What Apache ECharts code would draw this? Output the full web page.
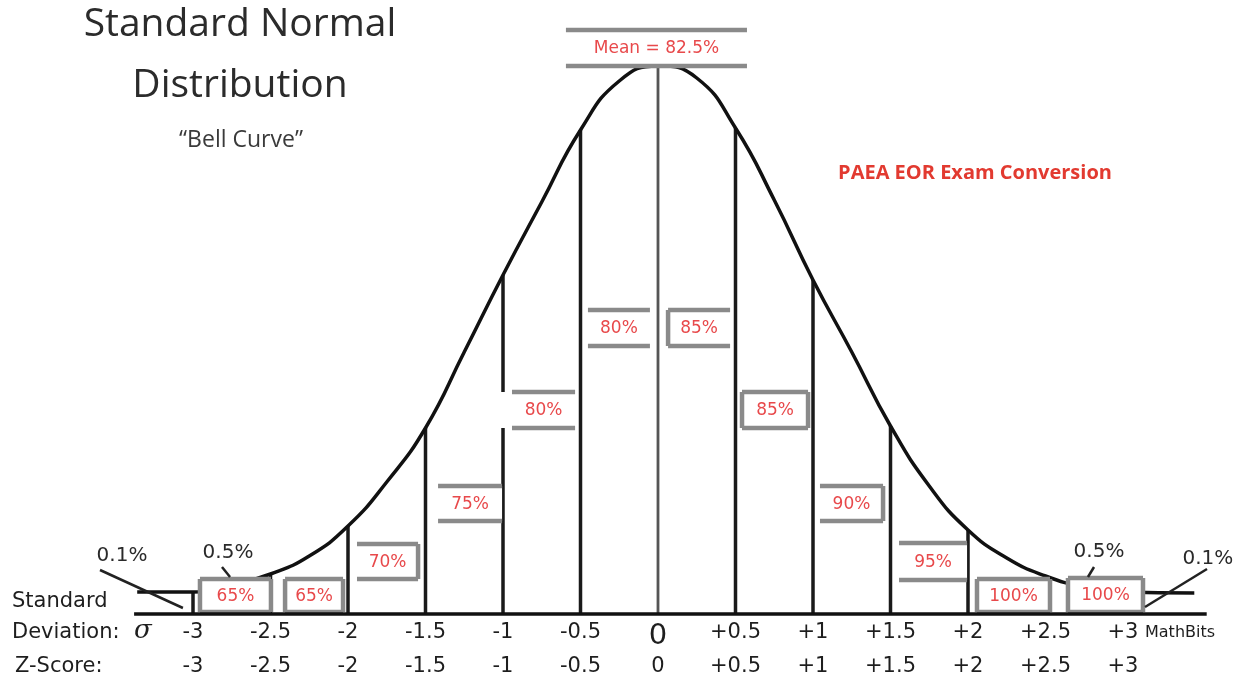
<!DOCTYPE html>
<html>
<head>
<meta charset="utf-8">
<script src="https://cdn.jsdelivr.net/npm/echarts@6/dist/echarts.min.js"></script>
<style>
html,body{margin:0;padding:0;background:#fff;}
#chart{width:1238px;height:687px;}
</style>
</head>
<body>
<div id="chart"></div>
<script>
// ---- data ----
// bell curve: z position and height above the baseline (chart units)
const curveZ = [-3.36, -3, -2.75, -2.5, -2.25, -2, -1.75, -1.5, -1.25, -1, -0.75, -0.5, -0.25, 0, 0.25, 0.5, 0.75, 1, 1.25, 1.5, 1.75, 2, 2.25, 2.5, 2.75, 3, 3.46];
const curveH = [22, 22, 29, 40, 58, 88, 132, 186, 262, 339, 412, 484, 533, 548, 536, 486, 414, 334, 262, 188, 128, 84, 56, 38, 27, 22, 21];
// vertical dividers at each half standard deviation
const dividerZ = [-3, -2.5, -2, -1.5, -1, -0.5, 0, 0.5, 1, 1.5, 2, 2.5];
// tick labels
const sigmaLabels = ['-3', '-2.5', '-2', '-1.5', '-1', '-0.5', '0', '+0.5', '+1', '+1.5', '+2', '+2.5', '+3'];
const zScoreLabels = ['-3', '-2.5', '-2', '-1.5', '-1', '-0.5', '0', '+0.5', '+1', '+1.5', '+2', '+2.5', '+3'];
// exam conversion labels
const conversionLabels = ['65%', '65%', '70%', '75%', '80%', '80%', 'Mean = 82.5%', '85%', '85%', '90%', '95%', '100%', '100%'];
// tail percentages
const tailLabels = ['0.1%', '0.5%', '0.5%', '0.1%'];

// ---- annotation layout (z0, h0, z1, h1, sides, fill-left) ----
const boxLayout = [
  [-2.955, 2, -2.497, 35, 'lr'],
  [-2.406, 2, -2.032, 35, 'lr'],
  [-1.942, 35, -1.548, 70, 'r'],
  [-1.419, 93, -1.006, 128, ''],
  [-0.942, 186, -0.535, 222, '', -1.04],
  [-0.452, 268, -0.052, 304, ''],
  [-0.594, 548, 0.574, 584, ''],
  [0.065, 268, 0.465, 304, 'l'],
  [0.542, 186, 0.968, 222, 'lr'],
  [1.045, 93, 1.452, 128, 'r'],
  [1.555, 34, 1.994, 71, ''],
  [2.058, 2, 2.529, 35, 'lr'],
  [2.645, 2, 3.129, 36, 'lr']
];
const calloutLayout = [
  // text z, text h, line z0, h0, z1, h1
  [-3.458, 58, -3.6, 44, -3.065, 6],
  [-2.774, 61, -2.813, 47, -2.761, 37],
  [2.845, 62, 2.774, 37, 2.813, 47],
  [3.548, 55, 3.142, 7, 3.542, 45]
];

const chart = echarts.init(document.getElementById('chart'));
const AXIS_FONT = 'DejaVu Sans';
const RED = '#e8494b';
const GRAY = '#8a8a8a';

function labelFor(arr, v) {
  const idx = Math.round((v + 3) * 2);
  if (Math.abs(v) > 3.01 || idx < 0 || idx >= arr.length) return '';
  return arr[idx];
}

const heightAt = z => curveH[curveZ.indexOf(z)];

const option = {
  backgroundColor: '#ffffff',
  animation: false,
  grid: { left: 115.5, right: 22, top: 14, bottom: 73, outerBoundsMode: 'none' },
  xAxis: [
    {
      type: 'value', min: -3.5, max: 3.6, interval: 0.5,
      axisLine: { show: false }, axisTick: { show: false }, splitLine: { show: false },
      axisLabel: {
        margin: 8, fontFamily: AXIS_FONT, fontSize: 21, color: '#1e1e1e',
        showMinLabel: true, showMaxLabel: false,
        formatter: v => { const t = labelFor(sigmaLabels, v); return t === '0' ? '{big|0}' : t; },
        rich: { big: { fontSize: 29, fontFamily: AXIS_FONT, color: '#1e1e1e' } }
      }
    },
    {
      type: 'value', min: -3.5, max: 3.6, interval: 0.5, position: 'bottom', offset: 0,
      axisLine: { show: false }, axisTick: { show: false }, splitLine: { show: false },
      axisLabel: {
        margin: 42, fontFamily: AXIS_FONT, fontSize: 21, color: '#1e1e1e',
        showMaxLabel: false,
        formatter: v => labelFor(zScoreLabels, v)
      }
    }
  ],
  yAxis: { type: 'value', min: 0, max: 600, show: false },
  series: [
    {
      type: 'line', name: 'curve', smooth: 0.5, symbol: 'none', z: 3,
      clip: false,
      lineStyle: { color: '#111', width: 3.5 },
      data: curveZ.map((z, i) => [z, curveH[i]])
    },
    {
      type: 'custom', name: 'dividers', z: 2, clip: false,
      data: dividerZ.map(z => [z, heightAt(z)]),
      encode: { x: 0, y: 1 },
      renderItem: (params, api) => {
        const z = api.value(0);
        const top = api.coord([z, api.value(1)]);
        const bot = api.coord([z, 0]);
        const isMean = Math.abs(z) < 1e-9;
        return {
          type: 'line',
          shape: { x1: top[0], y1: top[1], x2: bot[0], y2: bot[1] },
          style: { stroke: isMean ? '#555' : '#1a1a1a', lineWidth: isMean ? 2.8 : 3.5 }
        };
      }
    },
    {
      type: 'custom', name: 'boxes', z: 5, clip: false,
      data: boxLayout.map(b => [b[0], b[1], b[2], b[3]]),
      encode: { x: [0, 2], y: [1, 3] },
      renderItem: (params, api) => {
        const i = params.dataIndex;
        const b = boxLayout[i];
        const p0 = api.coord([api.value(0), api.value(1)]);
        const p1 = api.coord([api.value(2), api.value(3)]);
        const fx0 = b[5] !== undefined ? api.coord([b[5], 0])[0] : p0[0];
        const sides = b[4] || '';
        const lw = 4.5;
        const children = [
          { type: 'rect', shape: { x: fx0, y: p1[1], width: p1[0] - fx0, height: p0[1] - p1[1] }, style: { fill: '#fff' } },
          { type: 'line', shape: { x1: p0[0], y1: p1[1], x2: p1[0], y2: p1[1] }, style: { stroke: GRAY, lineWidth: lw } },
          { type: 'line', shape: { x1: p0[0], y1: p0[1], x2: p1[0], y2: p0[1] }, style: { stroke: GRAY, lineWidth: lw } }
        ];
        if (sides.indexOf('l') >= 0) children.push({ type: 'line', shape: { x1: p0[0], y1: p0[1], x2: p0[0], y2: p1[1] }, style: { stroke: GRAY, lineWidth: lw } });
        if (sides.indexOf('r') >= 0) children.push({ type: 'line', shape: { x1: p1[0], y1: p0[1], x2: p1[0], y2: p1[1] }, style: { stroke: GRAY, lineWidth: lw } });
        children.push({
          type: 'text', x: (p0[0] + p1[0]) / 2, y: (p0[1] + p1[1]) / 2 + 1,
          style: { text: conversionLabels[i], fill: RED, font: '17px "DejaVu Sans"', align: 'center', verticalAlign: 'middle', textAlign: 'center', textVerticalAlign: 'middle' }
        });
        return { type: 'group', children };
      }
    },
    {
      type: 'line', name: 'baseline', symbol: 'none', z: 6, clip: false,
      lineStyle: { color: '#111', width: 3.5 },
      data: [[-3.38, 0], [3.54, 0]]
    },
    {
      type: 'custom', name: 'callouts', z: 7, clip: false,
      data: calloutLayout.map(c => [c[0], c[1]]),
      encode: { x: 0, y: 1 },
      renderItem: (params, api) => {
        const c = calloutLayout[params.dataIndex];
        const t = api.coord([c[0], c[1]]);
        const a = api.coord([c[2], c[3]]);
        const b = api.coord([c[4], c[5]]);
        return {
          type: 'group',
          children: [
            { type: 'line', shape: { x1: a[0], y1: a[1], x2: b[0], y2: b[1] }, style: { stroke: '#222', lineWidth: 2.5 } },
            { type: 'text', x: t[0], y: t[1], style: { text: tailLabels[params.dataIndex], fill: '#2a2a2a', font: '20px "DejaVu Sans"', align: 'center', verticalAlign: 'middle', textAlign: 'center', textVerticalAlign: 'middle' } }
          ]
        };
      }
    }
  ],
  graphic: [
    { type: 'text', x: 240, y: 25, style: { text: 'Standard Normal', font: '39px "Open Sans"', fill: '#2b2b2b', align: 'center', verticalAlign: 'middle', textAlign: 'center', textVerticalAlign: 'middle' } },
    { type: 'text', x: 240, y: 86, style: { text: 'Distribution', font: '39px "Open Sans"', fill: '#2b2b2b', align: 'center', verticalAlign: 'middle', textAlign: 'center', textVerticalAlign: 'middle' } },
    { type: 'text', x: 241, y: 140, style: { text: '\u201cBell Curve\u201d', font: '23px "Open Sans"', fill: '#3a3a3a', align: 'center', verticalAlign: 'middle', textAlign: 'center', textVerticalAlign: 'middle' } },
    { type: 'text', x: 975, y: 173, style: { text: 'PAEA EOR Exam Conversion', font: 'bold 20px "Open Sans"', fill: '#e23a30', align: 'center', verticalAlign: 'middle', textAlign: 'center', textVerticalAlign: 'middle' } },
    { type: 'text', x: 12, y: 602, style: { text: 'Standard', font: '21px "DejaVu Sans"', fill: '#1e1e1e', align: 'left', verticalAlign: 'middle', textAlign: 'left', textVerticalAlign: 'middle' } },
    { type: 'text', x: 12, y: 633, style: { text: 'Deviation:', font: '21px "DejaVu Sans"', fill: '#1e1e1e', align: 'left', verticalAlign: 'middle', textAlign: 'left', textVerticalAlign: 'middle' } },
    { type: 'text', x: 134, y: 631, style: { text: '\u03c3', font: 'italic 26px "DejaVu Serif"', fill: '#1e1e1e', align: 'left', verticalAlign: 'middle', textAlign: 'left', textVerticalAlign: 'middle' } },
    { type: 'text', x: 15, y: 667, style: { text: 'Z-Score:', font: '21px "DejaVu Sans"', fill: '#1e1e1e', align: 'left', verticalAlign: 'middle', textAlign: 'left', textVerticalAlign: 'middle' } },
    { type: 'text', x: 1145, y: 633, style: { text: 'MathBits', font: '16px "DejaVu Sans"', fill: '#1e1e1e', align: 'left', verticalAlign: 'middle', textAlign: 'left', textVerticalAlign: 'middle' } }
  ]
};
chart.setOption(option);
</script>
</body>
</html>
